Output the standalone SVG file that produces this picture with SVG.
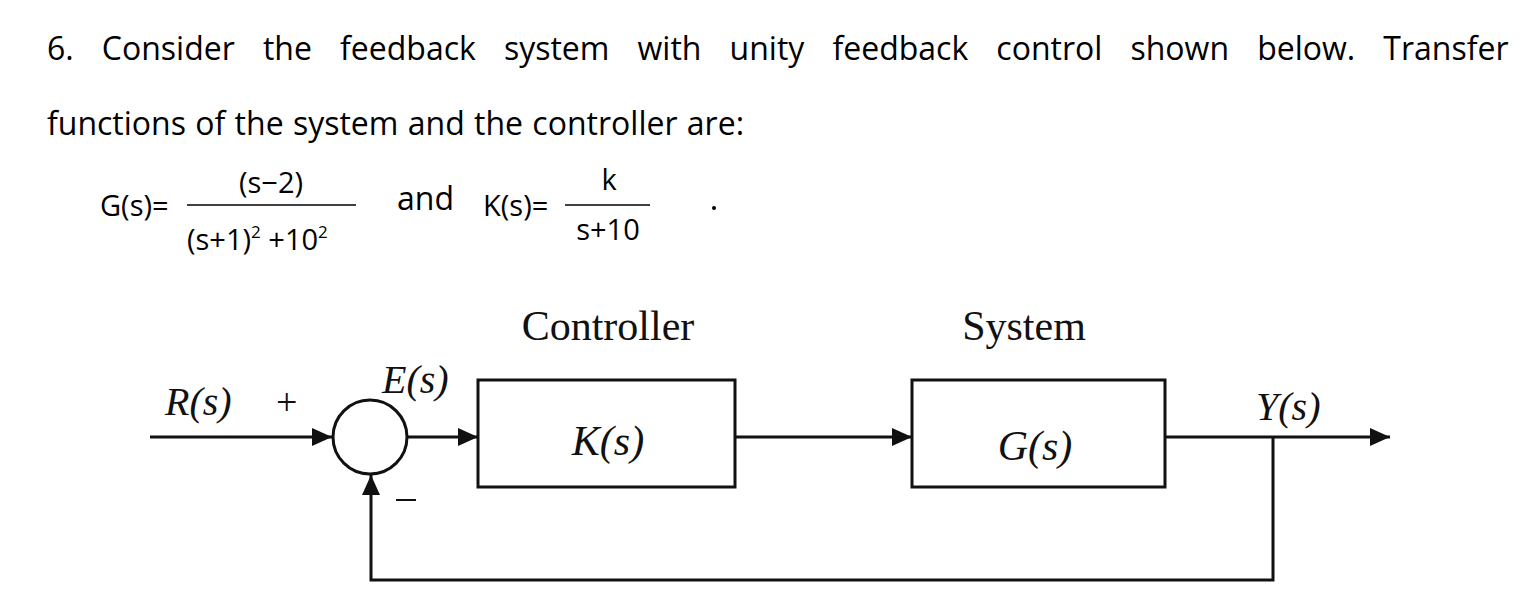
<svg xmlns="http://www.w3.org/2000/svg" width="1527" height="615" viewBox="0 0 1527 615">
<style>
.t{font-family:"Open Sans","Liberation Sans",sans-serif;fill:#000}
.m{font-family:"Open Sans","Liberation Sans",sans-serif;font-size:29px;fill:#000}
.tm{font-family:"Liberation Serif",serif;fill:#111}
.i{font-style:italic}
.ln{stroke:#111;stroke-width:3;fill:none}
</style>
<defs>
<marker id="b" markerWidth="20" markerHeight="18" refX="20" refY="9" orient="auto" markerUnits="userSpaceOnUse"><path d="M0,0 L20,9 L0,18 z" fill="#111"/></marker></defs>
<rect width="1527" height="615" fill="#fff"/>
<text class="t" x="47" y="60" font-size="32" word-spacing="19.8">6. Consider the feedback system with unity feedback control shown below. Transfer</text>
<text class="t" x="47" y="135" font-size="32" word-spacing="1">functions of the system  and the controller are:</text>
<text class="m" x="100" y="216">G(s)=</text>
<line x1="187" y1="205" x2="356" y2="205" stroke="#000" stroke-width="1.5"/>
<text class="m" x="271" y="193" text-anchor="middle">(s−2)</text>
<text class="m" x="187" y="250">(s+1)<tspan font-size="17" dy="-12">2</tspan><tspan dy="12"> +10</tspan><tspan font-size="17" dy="-12">2</tspan></text>
<text class="t" x="397" y="210" font-size="32">and</text>
<text class="m" x="483" y="216">K(s)=</text>
<line x1="565" y1="205" x2="650" y2="205" stroke="#000" stroke-width="1.5"/>
<text class="m" x="609" y="190" text-anchor="middle">k</text>
<text class="m" x="608" y="240" text-anchor="middle">s+10</text>
<circle cx="714" cy="208" r="2" fill="#000"/>
<text class="tm" x="608" y="340" font-size="42" text-anchor="middle">Controller</text>
<text class="tm" x="1024" y="340" font-size="42" text-anchor="middle">System</text>
<g id="sum"><circle cx="370" cy="437" r="37" class="ln"/></g>
<g id="K"><rect x="478" y="380" width="257" height="107" class="ln"/><text class="tm i" x="608" y="455" font-size="42" text-anchor="middle">K(s)</text></g>
<g id="G"><rect x="912" y="380" width="253" height="107" class="ln"/><text class="tm i" x="1035" y="460" font-size="42" text-anchor="middle">G(s)</text></g>
<g id="connectors" class="ln">
<line x1="150" y1="437" x2="332" y2="437" marker-end="url(#b)"/>
<line x1="407" y1="437" x2="478" y2="437" marker-end="url(#b)"/>
<line x1="735" y1="437" x2="912" y2="437" marker-end="url(#b)"/>
<line x1="1165" y1="437" x2="1390" y2="437" marker-end="url(#b)"/>
<polyline points="1273,437 1273,580 371,580 371,475" marker-end="url(#b)"/>
</g>
<text class="tm i" x="165" y="415" font-size="40">R(s)</text>
<text class="tm" x="276" y="415" font-size="38">+</text>
<text class="tm i" x="382" y="393" font-size="40">E(s)</text>
<line x1="396" y1="500" x2="416" y2="500" stroke="#111" stroke-width="2"/>
<text class="tm i" x="1256" y="420" font-size="40">Y(s)</text>
</svg>
